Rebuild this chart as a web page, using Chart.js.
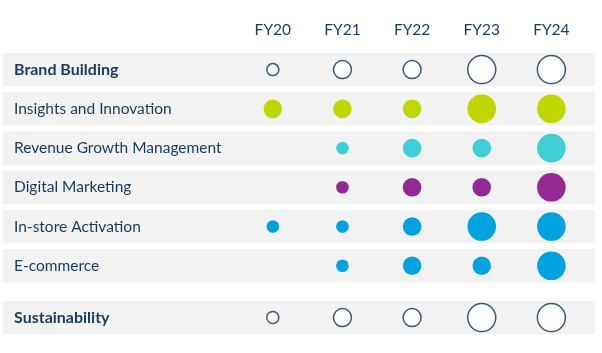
<!DOCTYPE html>
<html>
<head>
<meta charset="utf-8">
<script src="https://cdn.jsdelivr.net/npm/chart.js@4/dist/chart.umd.min.js"></script>
<style>
  html, body { margin: 0; padding: 0; background: #fff; overflow: hidden; }
  canvas { display: block; }
</style>
</head>
<body>
<canvas id="myChart" width="602" height="353"></canvas>
<script>
// years across the top, rows down the side
const years = ['FY20', 'FY21', 'FY22', 'FY23', 'FY24'];
const rows = ['Brand Building', 'Insights and Innovation', 'Revenue Growth Management',
  'Digital Marketing', 'In-store Activation', 'E-commerce', 'Sustainability'];

// bubble size level per year (0 = none, 1 = small, 2 = medium, 3 = large)
const brandBuilding = [1, 2, 2, 3, 3];
const insightsInnovation = [2, 2, 2, 3, 3];
const revenueGrowth = [0, 1, 2, 2, 3];
const digitalMarketing = [0, 1, 2, 2, 3];
const inStoreActivation = [1, 1, 2, 3, 3];
const eCommerce = [0, 1, 2, 2, 3];
const sustainability = [1, 2, 2, 3, 3];

const levels = [brandBuilding, insightsInnovation, revenueGrowth, digitalMarketing,
  inStoreActivation, eCommerce, sustainability];

const colors = [null, '#bfd600', '#40cfd6', '#932a94', '#00a3e0', '#00a3e0', null];
const textColor = '#173a5e';
const outline = '#3a5a78';
const radius = [0, 6.3, 9.3, 14.3];

// sustainability sits a bit further down, after a gap
function rowPos(i) {
  return i === 6 ? 6.32 : i;
}

const datasets = levels.map(function(vals, i) {
  const hollow = colors[i] === null;
  return {
    label: rows[i],
    data: vals.map(function(v, j) {
      return { x: years[j], y: rowPos(i), v: v };
    }).filter(function(p) { return p.v > 0; }),
    backgroundColor: hollow ? '#ffffff' : colors[i],
    borderColor: hollow ? outline : colors[i],
    borderWidth: hollow ? 1.5 : 0,
    pointRadius: function(ctx) {
      const r = radius[ctx.raw.v];
      return hollow ? r - 0.3 : r;
    },
    pointHoverRadius: function(ctx) { return radius[ctx.raw.v]; },
  };
});

// grey bands behind each row
const bands = {
  id: 'bands',
  beforeDraw: function(chart) {
    const c = chart.ctx;
    const y = chart.scales.y;
    c.save();
    c.fillStyle = '#ffffff';
    c.fillRect(0, 0, chart.width, chart.height);
    c.fillStyle = '#f2f2f2';
    rows.forEach(function(r, i) {
      const mid = y.getPixelForValue(rowPos(i));
      c.fillRect(3, mid - 16.7, 592, 33.4);
    });
    c.restore();
  }
};

const ctx = document.getElementById('myChart').getContext('2d');
const chart = new Chart(ctx, {
  type: 'scatter',
  data: {
    labels: years,
    datasets: datasets,
  },
  options: {
    responsive: false,
    animation: false,
    layout: { padding: { left: 14, right: 12, top: 0, bottom: 10 } },
    plugins: {
      legend: { display: false },
      tooltip: {
        callbacks: {
          label: function(item) { return item.dataset.label + ': ' + item.raw.x; }
        }
      }
    },
    scales: {
      x: {
        type: 'category',
        position: 'top',
        offset: true,
        grid: { display: false, drawTicks: false },
        border: { display: false },
        afterFit: function(axis) {
          axis.height = 50;
          axis.paddingLeft = 0;
          axis.paddingRight = 0;
        },
        ticks: {
          color: textColor,
          padding: 11,
          font: { family: 'Lato', size: 15.5 },
        },
      },
      y: {
        type: 'linear',
        reverse: true,
        min: -0.5,
        max: 6.82,
        grid: { display: false, drawTicks: false },
        border: { display: false },
        afterBuildTicks: function(axis) {
          axis.ticks = rows.map(function(r, i) { return { value: rowPos(i) }; });
        },
        afterFit: function(axis) {
          axis.width = 224;
          axis.paddingTop = 0;
          axis.paddingBottom = 0;
        },
        ticks: {
          color: textColor,
          crossAlign: 'far',
          padding: 0,
          callback: function(v, idx) { return rows[idx]; },
          font: function(c) {
            const bold = c.index === 0 || c.index === 6;
            return { family: 'Lato', size: bold ? 16 : 15.5, weight: bold ? 'bold' : 'normal' };
          },
        },
      },
    },
  },
  plugins: [bands],
});
</script>
</body>
</html>
